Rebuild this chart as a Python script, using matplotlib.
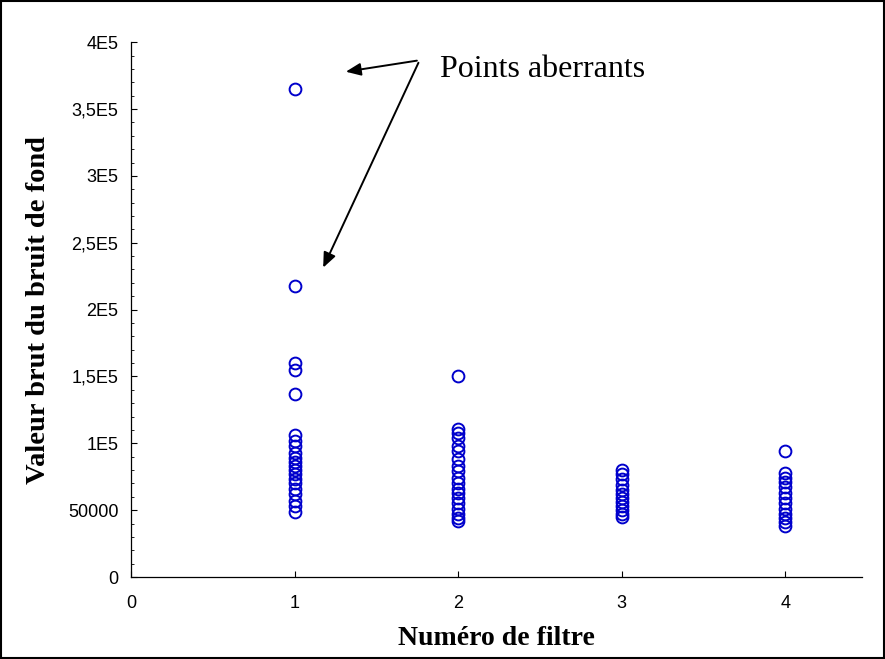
import matplotlib
matplotlib.use("Agg")
import matplotlib.pyplot as plt
from matplotlib.ticker import MultipleLocator
from matplotlib.patches import Rectangle

filters = [1, 2, 3, 4]
filtre1 = [365000, 218000, 160000, 155000, 137000, 106000, 102000, 98000, 93000, 89000,
           86000, 83000, 80000, 77000, 73000, 70000, 66000, 62000, 57000, 53000, 49000]
filtre2 = [150000, 111000, 108000, 104000, 98000, 94000, 88000, 83000, 79000, 74000,
           70000, 66000, 63000, 59000, 55000, 51000, 47000, 44000, 42000]
filtre3 = [80000, 77000, 73000, 69000, 65000, 62000, 59000, 56000, 53000, 50000, 47000, 45000]
filtre4 = [94000, 78000, 74000, 71000, 67000, 63000, 59000, 55000, 51000, 47000, 44000, 41000, 38000]
series = [filtre1, filtre2, filtre3, filtre4]

ytick_vals = [0, 50000, 100000, 150000, 200000, 250000, 300000, 350000, 400000]
ytick_labels = ["0", "50000", "1E5", "1,5E5", "2E5", "2,5E5", "3E5", "3,5E5", "4E5"]
xtick_vals = [0, 1, 2, 3, 4]

fig = plt.figure(figsize=(8.85, 6.59), dpi=100)
ax = fig.add_axes([0.148, 0.1244, 0.826, 0.8116])

for f, vals in zip(filters, series):
    ax.plot([f] * len(vals), vals, linestyle="none", marker="o", markersize=8.5,
            markerfacecolor="none", markeredgecolor="#0000cc", markeredgewidth=1.4)

ax.set_xlim(0, 4.47)
ax.set_ylim(0, 400000)
ax.set_xticks(xtick_vals)
ax.set_xticklabels([str(v) for v in xtick_vals], fontsize=13, family="Liberation Sans")
ax.set_yticks(ytick_vals)
ax.set_yticklabels(ytick_labels, fontsize=13, family="Liberation Sans")
ax.yaxis.set_minor_locator(MultipleLocator(10000))
ax.tick_params(axis="both", which="major", direction="in", length=4, width=0.8)
ax.tick_params(axis="y", which="major", pad=9)
ax.tick_params(axis="x", which="major", pad=13)
ax.tick_params(axis="y", which="minor", direction="in", length=2, width=0.6)

for s in ["top", "right"]:
    ax.spines[s].set_visible(False)
for s in ["left", "bottom"]:
    ax.spines[s].set_linewidth(0.9)

ax.set_xlabel("Numéro de filtre", family="Liberation Serif", fontweight="bold", fontsize=20, labelpad=10)
ax.set_ylabel("Valeur brut du bruit de fond", family="Liberation Serif", fontweight="bold", fontsize=20.5, labelpad=12)

# annotation
ax.text(1.89, 379500, "Points aberrants", family="Liberation Serif", fontsize=23,
        va="center", ha="left")
ax.annotate("", xy=(1.297, 377600), xytext=(1.765, 386500),
            arrowprops=dict(arrowstyle="-|>,head_length=0.9,head_width=0.38", color="black", lw=1.4))
ax.annotate("", xy=(1.168, 229500), xytext=(1.765, 386500),
            arrowprops=dict(arrowstyle="-|>,head_length=0.9,head_width=0.38", color="black", lw=1.4))

fig.patches.append(Rectangle((0.001, 0.001), 0.998, 0.998, transform=fig.transFigure,
                             fill=False, edgecolor="black", linewidth=1.5))

fig.savefig("out.png", dpi=100)
